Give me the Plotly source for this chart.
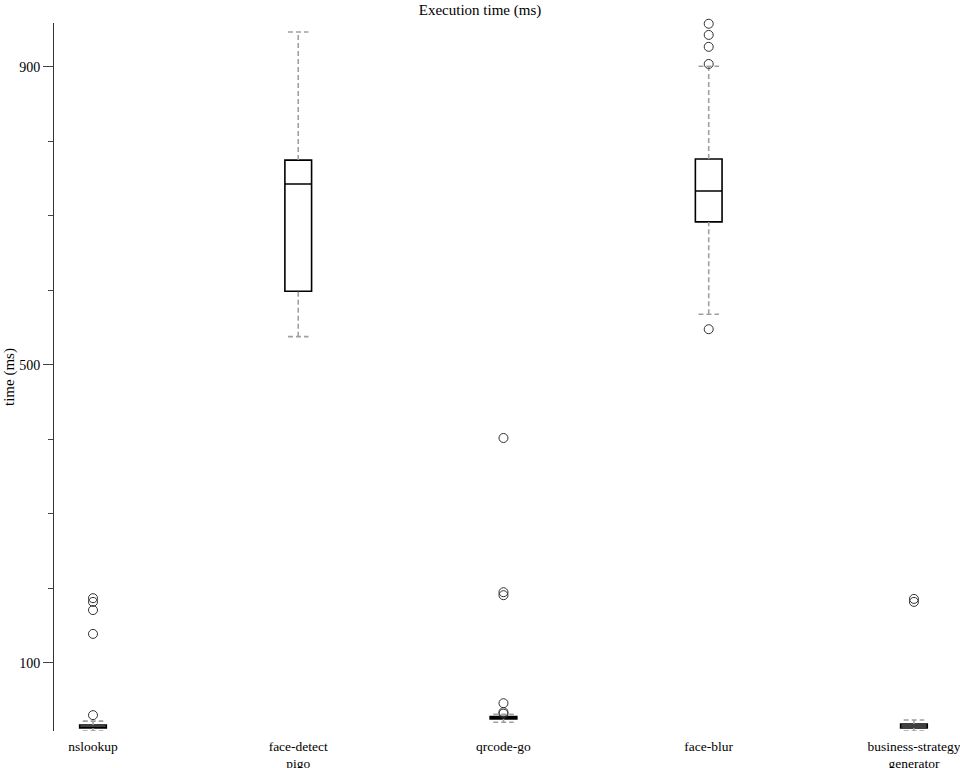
import plotly.graph_objects as go

categories = ["nslookup", "face-detect<br>pigo", "qrcode-go", "face-blur", "business-strategy<br>generator"]
q1 = [12.8, 599, 25, 692, 12.8]
median = [14, 743, 26, 733.5, 15.4]
q3 = [16.8, 775, 28, 776.5, 18]
lower_whisker = [8.7, 538, 20.4, 568, 8.7]
upper_whisker = [22, 947, 31, 901, 23.5]
outliers = [
    [30, 139, 171, 182, 187],
    [],
    [32, 34, 46, 191, 195, 402],
    [548, 904, 927, 943, 958],
    [182, 186],
]
y_tickvals = [100, 500, 900]

BOX_W = 0.13
CAP_W = 0.1
FONT = "Liberation Serif, Times New Roman, serif"

fig = go.Figure()

# whiskers + caps (dashed grey)
for i in range(len(categories)):
    wx, wy = [], []
    wx += [i, i, None]
    wy += [lower_whisker[i], q1[i], None]
    wx += [i, i, None]
    wy += [q3[i], upper_whisker[i], None]
    wx += [i - CAP_W / 2, i + CAP_W / 2, None]
    wy += [lower_whisker[i], lower_whisker[i], None]
    wx += [i - CAP_W / 2, i + CAP_W / 2, None]
    wy += [upper_whisker[i], upper_whisker[i], None]
    fig.add_trace(go.Scatter(
        x=wx, y=wy, mode="lines",
        line=dict(color="#a0a0a0", width=1.6, dash="5px,3px"),
        hoverinfo="skip", showlegend=False, cliponaxis=False,
    ))

# boxes
fig.add_trace(go.Box(
    x=list(range(len(categories))),
    q1=q1, median=median, q3=q3,
    lowerfence=q1, upperfence=q3,
    width=BOX_W, whiskerwidth=0,
    fillcolor="white",
    line=dict(color="black", width=1.6),
    boxpoints=False, showlegend=False,
))

# outliers
ox, oy = [], []
for i, vals in enumerate(outliers):
    for v in vals:
        ox.append(i)
        oy.append(v)
fig.add_trace(go.Scatter(
    x=ox, y=oy, mode="markers",
    marker=dict(symbol="circle-open", size=9, color="#333333", line=dict(width=1)),
    showlegend=False, cliponaxis=False,
))

PLOT_W = 960 - 54 - 5
fig.add_annotation(
    text="time (ms)", textangle=-90,
    xref="paper", yref="paper", x=(9 - 54) / PLOT_W, y=0.5,
    xanchor="center", yanchor="middle", showarrow=False,
    font=dict(family=FONT, size=15, color="black"),
)

fig.update_layout(
    width=960, height=768,
    margin=dict(l=54, r=5, t=23, b=37),
    paper_bgcolor="white", plot_bgcolor="white",
    font=dict(family=FONT, size=14, color="black"),
    title=dict(text="Execution time (ms)", x=0.5, xanchor="center", y=0.987, yanchor="middle",
               font=dict(family=FONT, size=15, color="black")),
    xaxis=dict(
        range=[-0.19, 4.2],
        tickmode="array", tickvals=list(range(len(categories))), ticktext=categories,
        showgrid=False, zeroline=False, showline=False, ticks="",
        automargin=False, ticklabeloverflow="allow", ticklabelstandoff=5,
        tickfont=dict(family=FONT, size=13.5, color="black"),
    ),
    yaxis=dict(
        range=[8.7, 959],
        automargin=False,
        tickmode="array", tickvals=y_tickvals,
        ticks="outside", ticklen=10, tickcolor="#444444", tickwidth=1,
        minor=dict(tickmode="array", tickvals=[200, 300, 400, 600, 700, 800],
                   ticks="outside", ticklen=5, tickcolor="#444444", tickwidth=1, showgrid=False),
        showgrid=False, zeroline=False,
        showline=True, linecolor="#333333", linewidth=1,
        tickfont=dict(family=FONT, size=14, color="black"),
    ),
)

fig.write_html("out.html")
